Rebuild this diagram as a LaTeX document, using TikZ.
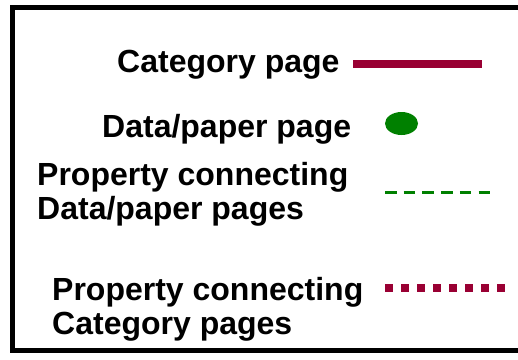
\documentclass[tikz,border=0pt]{standalone}
\usepackage{fontspec}
\setmainfont{Liberation Sans}
\definecolor{catred}{RGB}{153,0,51}
\definecolor{datgreen}{RGB}{0,128,0}
\begin{document}
\begin{tikzpicture}[x=1pt,y=-1pt,
  lbl/.style={font=\fontsize{32}{34}\selectfont\bfseries, inner sep=0pt, anchor=base west},
  frame/.style={line width=5pt, black},
  catline/.style={line width=8pt, catred},
  datdash/.style={line width=3pt, datgreen, dash pattern=on 11.5pt off 7.2pt},
  catdot/.style={line width=8pt, catred, dash pattern=on 8pt off 8pt}]
\useasboundingbox (0,0) rectangle (518,359);
\draw[frame] (530,7.5) -- (12.5,7.5) -- (12.5,350.5) -- (530,350.5);
\node[lbl] (t1) at (117,72) {Category page};
\node[lbl] (t2) at (102,137) {Data/paper page};
\node[lbl] (t3a) at (37,185) {Property connecting};
\node[lbl] (t3b) at (37,219) {Data/paper pages};
\node[lbl] (t4a) at (52,300) {Property connecting};
\node[lbl] (t4b) at (52,334) {Category pages};
\coordinate (c1s) at (353,64); \coordinate (c1e) at (482,64);
\draw[catline] (c1s) -- (c1e);
\fill[datgreen] (401.5,123.5) ellipse [x radius=16.5, y radius=11.5];
\coordinate (d1s) at (385,192); \coordinate (d1e) at (490,192);
\draw[datdash] (d1s) -- (d1e);
\coordinate (p1s) at (385,288); \coordinate (p1e) at (505,288);
\draw[catdot] (p1s) -- (p1e);
\end{tikzpicture}
\end{document}
